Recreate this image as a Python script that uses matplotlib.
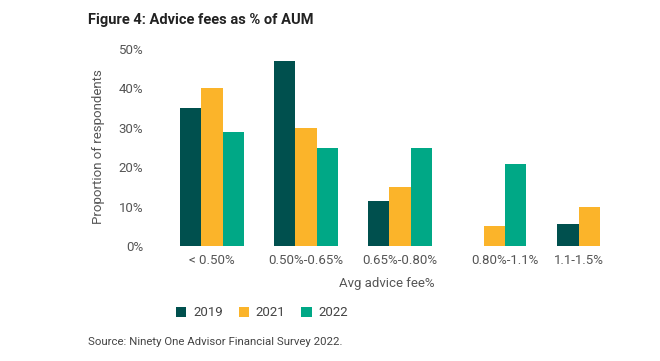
import numpy as np
import matplotlib.pyplot as plt

categories = ["< 0.50%", "0.50%-0.65%", "0.65%-0.80%", "0.80%-1.1%", "1.1-1.5%"]
years = ["2019", "2021", "2022"]
v2019 = [35, 47, 11.5, 0, 5.7]
v2021 = [40, 30, 15, 5, 10]
v2022 = [29, 25, 25, 20.7, 0]
colors = ["#00504e", "#fbb42a", "#00a886"]

plt.rcParams['font.family'] = ['Roboto', 'DejaVu Sans']

fig = plt.figure(figsize=(6.6, 3.61), dpi=100)
ax = fig.add_axes([160 / 660, 1 - 246 / 361, 480 / 660, 197 / 361])

group_x = [0, 1, 2, 3.12, 3.9]
w = 0.225
series = [v2019, v2021, v2022]

# bars centered on whichever series are present in each group
for g, gx in enumerate(group_x):
    present = [i for i in range(3) if series[i][g] > 0]
    n = len(present)
    for k, i in enumerate(present):
        off = (k - (n - 1) / 2) * w
        ax.bar(gx + off, series[i][g], width=w, color=colors[i],
               edgecolor='none')

for i, y in enumerate(years):
    ax.bar(0, 0, color=colors[i], label=y)

ax.set_ylim(0, 50)
ax.set_xlim(-0.553, 4.553)
ax.set_yticks(range(0, 51, 10))
ax.set_yticklabels([f"{t}%" for t in range(0, 51, 10)])
ax.set_xticks(group_x)
ax.set_xticklabels(categories)
ax.tick_params(length=0, labelsize=9.5, colors='#555555', pad=6)
ax.tick_params(axis='y', pad=12)
for s in ax.spines.values():
    s.set_visible(False)

fig.text(98 / 660, 1 - 147 / 361, "Proportion of respondents", rotation=90,
         ha='center', va='center', fontsize=9.5, color='#555555')
fig.text(387 / 660, 1 - 284 / 361, "Avg advice fee%", ha='center',
         va='center', fontsize=9.5, color='#555555')
fig.text(88 / 660, 1 - 20 / 361, "Figure 4: Advice fees as % of AUM",
         ha='left', va='center', fontsize=10.5, fontweight='bold',
         color='#222222')
fig.text(88 / 660, 1 - 342 / 361, "Source: Ninety One Advisor Financial Survey 2022.",
         ha='left', va='center', fontsize=8.2, color='#444444')

fig.legend(loc='center', bbox_to_anchor=(262 / 660, 1 - 313 / 361), ncol=3,
           frameon=False, fontsize=9.5, handlelength=0.8, handleheight=0.8,
           columnspacing=1.2, handletextpad=0.5, labelcolor='#444444')

fig.savefig("out.png", dpi=100)
